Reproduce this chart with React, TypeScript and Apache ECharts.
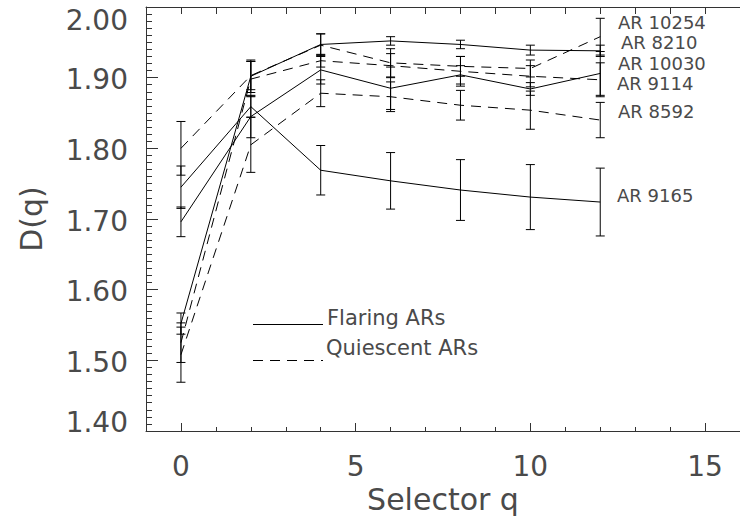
import React, { useEffect, useRef } from "react";
import * as echarts from "echarts";

const qValues = [0, 2, 4, 6, 8, 10, 12];

const ar10254 = [1.8, 1.903, 1.946, 1.921, 1.916, 1.913, 1.958];
const err10254 = [0.038, 0.02, 0.016, 0.02, 0.014, 0.012, 0.026];
const ar8210 = [1.552, 1.902, 1.947, 1.952, 1.947, 1.939, 1.938];
const err8210 = [0.015, 0.023, 0.015, 0.006, 0.006, 0.007, 0.008];
const ar10030 = [1.525, 1.898, 1.924, 1.917, 1.909, 1.902, 1.897];
const err10030 = [0.028, 0.025, 0.009, 0.017, 0.021, 0.015, 0.024];
const ar9114 = [1.696, 1.845, 1.911, 1.885, 1.904, 1.884, 1.906];
const err9114 = [0.021, 0.03, 0.02, 0.03, 0.013, 0.009, 0.031];
const ar8592 = [1.508, 1.805, 1.878, 1.873, 1.861, 1.854, 1.84];
const err8592 = [0.039, 0.039, 0.019, 0.021, 0.021, 0.027, 0.025];
const ar9165 = [1.745, 1.859, 1.769, 1.754, 1.741, 1.731, 1.724];
const err9165 = [0.03, 0.015, 0.035, 0.04, 0.043, 0.046, 0.048];

const seriesNames = ["AR 10254", "AR 8210", "AR 10030", "AR 9114", "AR 8592", "AR 9165"];
const seriesValues = [ar10254, ar8210, ar10030, ar9114, ar8592, ar9165];
const seriesErrors = [err10254, err8210, err10030, err9114, err8592, err9165];
const seriesFlaring = [false, true, false, true, false, true];

const xMajorTicks = [0, 5, 10, 15];
const legendLabels = ["Flaring ARs", "Quiescent ARs"];
const xTitle = "Selector q";
const yTitle = "D(q)";

const FONT = "DejaVu Sans";
const TXT = "#4a4a4a";

export default function App() {
  const ref = useRef<HTMLDivElement>(null);
  useEffect(() => {
    if (!ref.current) return;
    const chart = echarts.init(ref.current, undefined, { renderer: "svg" });

    const lineSeries = seriesValues.map((vals, i) => ({
      type: "line",
      name: seriesNames[i],
      data: qValues.map((q, j) => [q, vals[j]]),
      symbol: "none",
      silent: true,
      lineStyle: {
        color: "#000",
        width: 1,
        type: seriesFlaring[i] ? "solid" : [10, 7],
      },
      z: 3,
    }));

    const errData: number[][] = [];
    seriesValues.forEach((vals, i) => {
      qValues.forEach((q, j) => {
        errData.push([q, vals[j] - seriesErrors[i][j], vals[j] + seriesErrors[i][j]]);
      });
    });

    const errSeries = {
      type: "custom",
      silent: true,
      data: errData,
      z: 4,
      renderItem: (params: any, api: any) => {
        const x = api.value(0);
        const lo = api.value(1);
        const hi = api.value(2);
        const p1 = api.coord([x, hi]);
        const p2 = api.coord([x, lo]);
        const w = 4.5;
        const st = { stroke: "#000", lineWidth: 1 };
        return {
          type: "group",
          children: [
            { type: "line", shape: { x1: p1[0], y1: p1[1], x2: p2[0], y2: p2[1] }, style: st },
            { type: "line", shape: { x1: p1[0] - w, y1: p1[1], x2: p1[0] + w, y2: p1[1] }, style: st },
            { type: "line", shape: { x1: p2[0] - w, y1: p2[1], x2: p2[0] + w, y2: p2[1] }, style: st },
          ],
        };
      },
    };

    const labelPos = [
      [618, 22],
      [621, 42.5],
      [618, 63],
      [617, 83.5],
      [618, 111],
      [617, 195],
    ];

    const graphics: any[] = seriesNames.map((n, i) => ({
      type: "text",
      x: labelPos[i][0],
      y: labelPos[i][1],
      silent: true,
      style: { text: n, fontFamily: FONT, fontSize: 18, fill: TXT, align: "left", verticalAlign: "middle" },
    }));
    graphics.push(
      { type: "line", silent: true, shape: { x1: 253, y1: 324.5, x2: 323, y2: 324.5 }, style: { stroke: "#000", lineWidth: 1 } },
      { type: "line", silent: true, shape: { x1: 253, y1: 360.5, x2: 323, y2: 360.5 }, style: { stroke: "#000", lineWidth: 1, lineDash: [10, 7] } },
      { type: "text", x: 327, y: 318, silent: true, style: { text: legendLabels[0], fontFamily: FONT, fontSize: 21, fill: TXT, align: "left", verticalAlign: "middle" } },
      { type: "text", x: 326, y: 348, silent: true, style: { text: legendLabels[1], fontFamily: FONT, fontSize: 21, fill: TXT, align: "left", verticalAlign: "middle" } }
    );

    const axisLineStyle = { color: "#333", width: 1 };

    chart.setOption({
      animation: false,
      backgroundColor: "#fff",
      grid: { left: 146, right: -12, top: 7, bottom: 92, containLabel: false },
      xAxis: [
        {
          type: "value",
          min: -1,
          max: 16,
          position: "bottom",
          axisLine: { show: true, onZero: false, lineStyle: axisLineStyle },
          axisTick: { show: true, inside: true, length: 8, customValues: xMajorTicks, lineStyle: axisLineStyle },
          axisLabel: {
            show: true,
            customValues: xMajorTicks,
            fontFamily: FONT,
            fontSize: 28,
            color: TXT,
            margin: 21,
          },
          splitLine: { show: false },
          name: xTitle,
          nameLocation: "middle",
          nameGap: 46,
          nameTextStyle: { fontFamily: FONT, fontSize: 30, color: TXT },
        },
        {
          type: "value",
          min: -1,
          max: 16,
          interval: 1,
          position: "bottom",
          axisLine: { show: false, onZero: false },
          axisTick: { show: true, inside: true, length: 4, lineStyle: axisLineStyle },
          axisLabel: { show: false },
          splitLine: { show: false },
        },
        {
          type: "value",
          min: -1,
          max: 16,
          interval: 1,
          position: "top",
          axisLine: { show: true, onZero: false, lineStyle: axisLineStyle },
          axisTick: { show: true, inside: true, length: 7, lineStyle: axisLineStyle },
          axisLabel: { show: false },
          splitLine: { show: false },
        },
      ],
      yAxis: [
        {
          type: "value",
          min: 1.4,
          max: 2.0,
          interval: 0.1,
          position: "left",
          axisLine: { show: true, onZero: false, lineStyle: axisLineStyle },
          axisTick: { show: true, inside: true, length: 12, lineStyle: axisLineStyle },
          splitLine: { show: false },
          axisLabel: {
            margin: 18,
            formatter: (v: number) => {
              const s = v.toFixed(2);
              if (Math.abs(v - 2.0) < 1e-6) return "{t|" + s + "}";
              if (Math.abs(v - 1.4) < 1e-6) return "{b|" + s + "}";
              return "{m|" + s + "}";
            },
            rich: {
              t: { fontFamily: FONT, fontSize: 28, color: TXT, padding: [26, 0, 0, 0] },
              b: { fontFamily: FONT, fontSize: 28, color: TXT, padding: [0, 0, 18, 0] },
              m: { fontFamily: FONT, fontSize: 28, color: TXT, padding: [4, 0, 0, 0] },
            },
          },
          name: yTitle,
          nameLocation: "middle",
          nameGap: 100,
          nameRotate: 90,
          nameTextStyle: { fontFamily: FONT, fontSize: 30, color: TXT },
        },
        {
          type: "value",
          min: 1.4,
          max: 2.0,
          interval: 0.01,
          position: "left",
          axisLine: { show: false, onZero: false },
          axisTick: { show: true, inside: true, length: 6, lineStyle: axisLineStyle },
          axisLabel: { show: false },
          splitLine: { show: false },
        },
      ],
      series: [...lineSeries, errSeries],
      graphic: graphics,
    });

    return () => chart.dispose();
  }, []);

  return (
    <div
      ref={ref}
      style={{ position: "absolute", left: 0, top: 0, width: 740, height: 523, background: "#fff" }}
    />
  );
}
